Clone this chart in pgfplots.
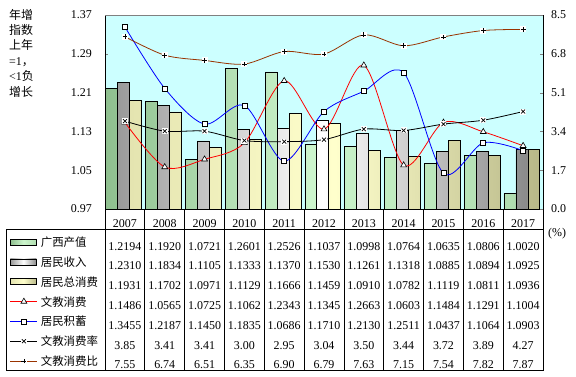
\documentclass[border=0pt]{standalone}
\usepackage{fontspec}
\setmainfont{Liberation Serif}
\newfontfamily\cjk{Noto Sans CJK SC}
\usepackage{pgfplots}
\usepackage{pgfplotstable}
\pgfplotsset{compat=1.18}

\definecolor{bgc}{HTML}{CCFFFF}
\definecolor{brn}{HTML}{993300}
\definecolor{gL}{HTML}{8FBF8F}
\definecolor{gM}{HTML}{CCF5CC}
\definecolor{gR}{HTML}{B0DDB0}
\definecolor{sL}{HTML}{9A9A9A}
\definecolor{sR}{HTML}{8A8A8A}
\definecolor{yL}{HTML}{E4E4B0}
\definecolor{yM}{HTML}{FFFFCC}
\definecolor{yR}{HTML}{B8B888}

\pgfdeclareplotmark{wplus}{%
  \pgfpathrectangle{\pgfqpoint{-\pgfplotmarksize}{-\pgfplotmarksize}}{\pgfqpoint{2\pgfplotmarksize}{2\pgfplotmarksize}}%
  \pgfsetfillcolor{white}\pgfusepathqfill
  \pgfpathmoveto{\pgfqpoint{-0.8\pgfplotmarksize}{0pt}}\pgfpathlineto{\pgfqpoint{0.8\pgfplotmarksize}{0pt}}%
  \pgfpathmoveto{\pgfqpoint{0pt}{-0.8\pgfplotmarksize}}\pgfpathlineto{\pgfqpoint{0pt}{0.8\pgfplotmarksize}}%
  \pgfusepathqstroke}
\pgfdeclareplotmark{wx}{%
  \pgfpathrectangle{\pgfqpoint{-\pgfplotmarksize}{-\pgfplotmarksize}}{\pgfqpoint{2\pgfplotmarksize}{2\pgfplotmarksize}}%
  \pgfsetfillcolor{white}\pgfusepathqfill
  \pgfpathmoveto{\pgfqpoint{-0.65\pgfplotmarksize}{-0.65\pgfplotmarksize}}\pgfpathlineto{\pgfqpoint{0.65\pgfplotmarksize}{0.65\pgfplotmarksize}}%
  \pgfpathmoveto{\pgfqpoint{-0.65\pgfplotmarksize}{0.65\pgfplotmarksize}}\pgfpathlineto{\pgfqpoint{0.65\pgfplotmarksize}{-0.65\pgfplotmarksize}}%
  \pgfusepathqstroke}

\pgfplotsset{
  barleg/.style={legend image code/.code={\draw[##1,/tikz/.cd,yshift=0pt] (0bp,-3bp) rectangle (26bp,3bp);}},
  lineleg/.style={legend image code/.code={\draw[mark repeat=2,mark phase=2,##1] plot coordinates {(0bp,0bp)(13.5bp,0bp)(27bp,0bp)};}},
  redl/.style={red, line width=0.8bp, smooth, mark=triangle*, mark size=3.4bp, mark options={fill=white, draw=black, line width=0.6bp}, lineleg},
  bluel/.style={blue, line width=0.8bp, smooth, mark=square*, mark size=2.5bp, mark options={fill=white, draw=black, line width=0.6bp}, lineleg},
  blkl/.style={black, line width=0.8bp, smooth, mark=wx, mark size=3bp, mark options={draw=black, line width=0.7bp}, lineleg},
  brnl/.style={brn, line width=0.8bp, smooth, mark=wplus, mark size=3bp, mark options={draw=black, line width=0.7bp}, lineleg},
}

\pgfplotstableread{
x year gx jm xf wj cx rate ratio
0 2007 1.2194 1.2310 1.1931 1.1486 1.3455 3.85 7.55
1 2008 1.1920 1.1834 1.1702 1.0565 1.2187 3.41 6.74
2 2009 1.0721 1.1105 1.0971 1.0725 1.1450 3.41 6.51
3 2010 1.2601 1.1333 1.1129 1.1062 1.1835 3.00 6.35
4 2011 1.2526 1.1370 1.1666 1.2343 1.0686 2.95 6.90
5 2012 1.1037 1.1530 1.1459 1.1345 1.1710 3.04 6.79
6 2013 1.0998 1.1261 1.0910 1.2663 1.2130 3.50 7.63
7 2014 1.0764 1.1318 1.0782 1.0603 1.2511 3.44 7.15
8 2015 1.0635 1.0885 1.1119 1.1484 1.0437 3.72 7.54
9 2016 1.0806 1.0894 1.0811 1.1291 1.1064 3.89 7.82
10 2017 1.0020 1.0925 1.0936 1.1004 1.0903 4.27 7.87
}\data

\begin{document}
\begin{tikzpicture}[x=1bp,y=1bp]
\fill[white] (0,0) rectangle (576,376);

\begin{axis}[
  at={(105bp,167bp)}, anchor=south west, scale only axis,
  width=438bp, height=194bp,
  xmin=-0.5, xmax=10.5, ymin=0.97, ymax=1.37,
  axis background/.style={fill=bgc},
  xtick=\empty,
  ytick={0.97,1.05,1.13,1.21,1.29,1.37},
  ytick pos=left, tick align=inside, major tick length=3bp,
  /pgf/number format/assume math mode=true,
  yticklabel style={/pgf/number format/.cd, fixed, fixed zerofill, precision=2, /tikz/.cd, font=\fontsize{12}{14}\selectfont, inner sep=0pt, xshift=-13bp},
  axis line style={line width=0.8bp},
  legend cell align=left,
  legend style={at={(-0.2169,-0.119)}, anchor=north west, draw=none, fill=none,
    inner sep=0pt, outer sep=0pt, row sep=0pt, column sep=3bp,
    nodes={inner sep=0pt, text height=14.42bp, text depth=5.42bp, font=\cjk\fontsize{11.5}{12}\selectfont}},
]
\addplot[ybar, bar width=0.3, bar shift=-0.33, draw=black, line width=0.7bp, left color=gL, right color=gR, middle color=gM, barleg] table[x=x,y=gx]{\data};
\addplot[ybar, bar width=0.3, bar shift=-0.03, draw=black, line width=0.7bp, left color=sL, right color=sR, middle color=white, barleg] table[x=x,y=jm]{\data};
\addplot[ybar, bar width=0.3, bar shift=0.27, draw=black, line width=0.7bp, left color=yL, right color=yR, middle color=yM, barleg] table[x=x,y=xf]{\data};
\addplot[redl] table[x=x,y=wj]{\data};
\addplot[bluel] table[x=x,y=cx]{\data};
\addlegendimage{blkl}
\addlegendimage{brnl}
\legend{广西产值,居民收入,居民总消费,文教消费,居民积蓄,文教消费率,文教消费比}
\end{axis}

\begin{axis}[
  at={(105bp,167bp)}, anchor=south west, scale only axis,
  width=438bp, height=194bp,
  xmin=-0.5, xmax=10.5, ymin=0, ymax=8.5,
  axis x line=none, axis y line*=right,
  ytick={0,1.7,3.4,5.1,6.8,8.5},
  tick align=inside, major tick length=3bp,
  /pgf/number format/assume math mode=true,
  yticklabel style={/pgf/number format/.cd, fixed, fixed zerofill, precision=1, /tikz/.cd, font=\fontsize{12}{14}\selectfont, inner sep=0pt, anchor=west, xshift=8bp},
  axis line style={line width=0.8bp},
]
\addplot[blkl] table[x=x,y=rate]{\data};
\addplot[brnl] table[x=x,y=ratio]{\data};
\end{axis}

% top border of plot area
\draw[gray, line width=0.8bp] (105,361) -- (543,361);

% data table
\draw[line width=0.8bp] (6,6) rectangle (543,147);
\foreach \k in {0,...,11}{
  \draw[line width=0.8bp] ({105+39.818*\k},6) -- ({105+39.818*\k},167);
}
\foreach \i in {0,...,10}{
  \pgfplotstablegetelem{\i}{year}\of\data
  \node[font=\fontsize{12}{14}\selectfont, inner sep=0pt, text height=8bp, text depth=0pt] at ({105+39.818*(\i+0.5)},153) {\pgfplotsretval};
}
\foreach \col [count=\r from 0] in {gx,jm,xf,wj,cx,rate,ratio}{
  \foreach \i in {0,...,10}{
    \pgfplotstablegetelem{\i}{\col}\of\data
    \node[font=\fontsize{12}{14}\selectfont, inner sep=0pt, text height=8bp, text depth=0pt] at ({105+39.818*(\i+0.5)},{130-19.83*\r}) {\pgfplotsretval};
  }
}

% left title and unit
\node[anchor=north west, inner sep=0pt, align=left, font=\cjk\fontsize{12}{15.4}\selectfont] at (9,367)
  {年增\\指数\\上年\\{\rmfamily =1}，\\{\rmfamily <1}负\\增长};
\node[anchor=west, inner sep=0pt, font=\fontsize{12}{14}\selectfont] at (548,142) {(\%)};
\end{tikzpicture}
\end{document}
